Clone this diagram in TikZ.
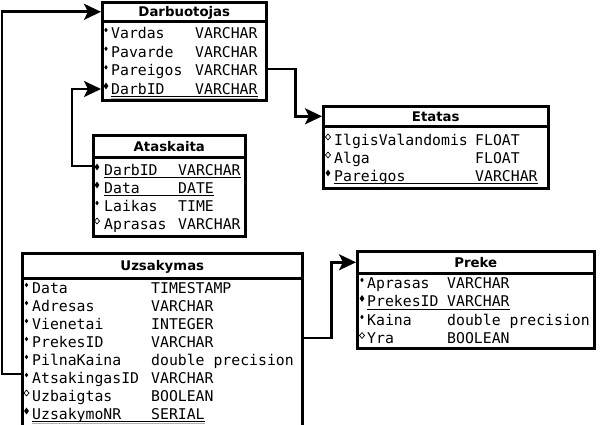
\documentclass[tikz,border=0pt]{standalone}
\usepackage{fontspec}
\setmainfont{DejaVu Sans}
\newfontfamily\fieldfont{DejaVu Sans Mono}
\usetikzlibrary{arrows.meta,shapes.geometric}

\tikzset{
  box/.style={draw,line width=2.6pt,fill=white,anchor=north west,inner sep=0pt},
  title/.style={box,font=\fontsize{13.3}{15}\selectfont\bfseries,text height=9.6pt,text depth=0pt},
  fld/.style={anchor=west,inner sep=0pt,font=\fontsize{14.8}{16}\selectfont\fieldfont,text height=10.7pt,text depth=0pt},
  dotfill/.style={diamond,fill,inner sep=0pt,minimum width=3.6pt,minimum height=4.8pt},
  dotopen/.style={diamond,draw,line width=0.7pt,inner sep=0pt,minimum width=5.5pt,minimum height=6pt},
  dotkey/.style={diamond,fill,inner sep=0pt,minimum width=5pt,minimum height=7pt},
  uline/.style={line width=1pt},
  gline/.style={line width=1.5pt,gray!60},
  conn/.style={line width=2.6pt,-{Stealth[length=17pt,width=16pt,inset=4pt]}}
}

\begin{document}
\begin{tikzpicture}[x=1pt,y=-1pt]
\useasboundingbox (0,0) rectangle (600,425);
\clip (0,0) rectangle (600,425);

\node[title,minimum width=164pt,minimum height=19pt] (darbT) at (101,1) {Darbuotojas};
\node[box,minimum width=164pt,minimum height=79pt] (darb) at (101,20) {};
\node[dotfill] (d1b) at (106,30) {};
\node[fld] (d1) at (111,33) {Vardas};
\node[fld] (d1t) at (195,33) {VARCHAR};
\node[dotfill] (d2b) at (106,48.7) {};
\node[fld] (d2) at (111,51.7) {Pavarde};
\node[fld] (d2t) at (195,51.7) {VARCHAR};
\node[dotfill] (d3b) at (106,67.3) {};
\node[fld] (d3) at (111,70.3) {Pareigos};
\node[fld] (d3t) at (195,70.3) {VARCHAR};
\node[dotkey] (d4b) at (106,86) {};
\node[fld] (d4) at (111,89) {DarbID};
\node[fld] (d4t) at (195,89) {VARCHAR};
\draw[uline] ([yshift=-2pt]d4.south west) -- ([yshift=-2pt]d4t.south east);
\draw[gline] ([yshift=-3.8pt]d4.south west) -- ([yshift=-3.8pt]d4t.south east);

%-------------------------------------
\node[title,minimum width=225pt,minimum height=20pt] (etaT) at (322,105) {Etatas};
\node[box,minimum width=225pt,minimum height=62pt] (eta) at (322,125) {};
\node[dotopen] (e1b) at (328,137) {};
\node[fld] (e1) at (334,140) {IlgisValandomis};
\node[fld] (e1t) at (475,140) {FLOAT};
\node[dotopen] (e2b) at (328,155) {};
\node[fld] (e2) at (334,158) {Alga};
\node[fld] (e2t) at (475,158) {FLOAT};
\node[dotkey] (e3b) at (328,173) {};
\node[fld] (e3) at (334,176) {Pareigos};
\node[fld] (e3t) at (475,176) {VARCHAR};
\draw[uline] ([yshift=-2pt]e3.south west) -- ([yshift=-2pt]e3t.south east);

%-------------------------------------
\node[title,minimum width=152pt,minimum height=22pt] (ataT) at (92,134) {Ataskaita};
\node[box,minimum width=152pt,minimum height=79pt] (ata) at (92,156) {};
\node[dotkey] (a1b) at (97,167) {};
\node[fld] (a1) at (104,170) {DarbID};
\node[fld] (a1t) at (178,170) {VARCHAR};
\node[dotkey] (a2b) at (97,185) {};
\node[fld] (a2) at (104,188) {Data};
\node[fld] (a2t) at (178,188) {DATE};
\node[dotfill] (a3b) at (97,203) {};
\node[fld] (a3) at (104,206) {Laikas};
\node[fld] (a3t) at (178,206) {TIME};
\node[dotopen] (a4b) at (97,221) {};
\node[fld] (a4) at (104,224) {Aprasas};
\node[fld] (a4t) at (178,224) {VARCHAR};
\draw[uline] ([yshift=-2pt]a1.south west) -- ([yshift=-2pt]a1t.south east);
\draw[uline] ([yshift=-2pt]a2.south west) -- ([yshift=-2pt]a2t.south east);

%-------------------------------------
\node[title,minimum width=280pt,minimum height=25pt] (uzsT) at (21,252) {Uzsakymas};
\node[box,minimum width=280pt,minimum height=160pt] (uzs) at (21,277) {};
\node[dotfill] (u1b) at (26.5,285) {};
\node[fld] (u1) at (32,288) {Data};
\node[fld] (u1t) at (151,288) {TIMESTAMP};
\node[dotfill] (u2b) at (26.5,303) {};
\node[fld] (u2) at (32,306) {Adresas};
\node[fld] (u2t) at (151,306) {VARCHAR};
\node[dotfill] (u3b) at (26.5,321) {};
\node[fld] (u3) at (32,324) {Vienetai};
\node[fld] (u3t) at (151,324) {INTEGER};
\node[dotfill] (u4b) at (26.5,339) {};
\node[fld] (u4) at (32,342) {PrekesID};
\node[fld] (u4t) at (151,342) {VARCHAR};
\node[dotfill] (u5b) at (26.5,357) {};
\node[fld] (u5) at (32,360) {PilnaKaina};
\node[fld] (u5t) at (151,360) {double precision};
\node[dotfill] (u6b) at (26.5,375) {};
\node[fld] (u6) at (32,378) {AtsakingasID};
\node[fld] (u6t) at (151,378) {VARCHAR};
\node[dotopen] (u7b) at (26.5,393) {};
\node[fld] (u7) at (32,396) {Uzbaigtas};
\node[fld] (u7t) at (151,396) {BOOLEAN};
\node[dotkey] (u8b) at (26.5,411) {};
\node[fld] (u8) at (32,414) {UzsakymoNR};
\node[fld] (u8t) at (151,414) {SERIAL};
\draw[uline] ([yshift=-2pt]u8.south west) -- ([yshift=-2pt]u8t.south east);
\draw[gline] ([yshift=-3.8pt]u8.south west) -- ([yshift=-3.8pt]u8t.south east);

%-------------------------------------
\node[title,minimum width=237pt,minimum height=22pt] (prkT) at (356,250) {Preke};
\node[box,minimum width=237pt,minimum height=75pt] (prk) at (356,272) {};
\node[dotfill] (p1b) at (362,280) {};
\node[fld] (p1) at (367,283) {Aprasas};
\node[fld] (p1t) at (447,283) {VARCHAR};
\node[dotkey] (p2b) at (362,298.5) {};
\node[fld] (p2) at (367,301.5) {PrekesID};
\node[fld] (p2t) at (447,301.5) {VARCHAR};
\node[dotfill] (p3b) at (362,317) {};
\node[fld] (p3) at (367,320) {Kaina};
\node[fld] (p3t) at (447,320) {double precision};
\node[dotopen] (p4b) at (362,335.5) {};
\node[fld] (p4) at (367,338.5) {Yra};
\node[fld] (p4t) at (447,338.5) {BOOLEAN};
\draw[uline] ([yshift=-2pt]p2.south west) -- ([yshift=-2pt]p2t.south east);

%-------------------------------------
\draw[conn] ([yshift=1.3pt]darb.east |- d3) -- ++(28,0) |- (etaT.west);
\draw[conn] ([yshift=4pt]ata.west |- a1) -- ++(-20,0) |- (darb.west |- d4);
\draw[conn] ([yshift=4pt]uzs.west |- u6) -- ++(-19,0) |- (darbT.west);
\draw[conn] ([yshift=4pt]uzs.east |- u4) -- ++(28,0) |- (prkT.west);
\end{tikzpicture}
\end{document}
